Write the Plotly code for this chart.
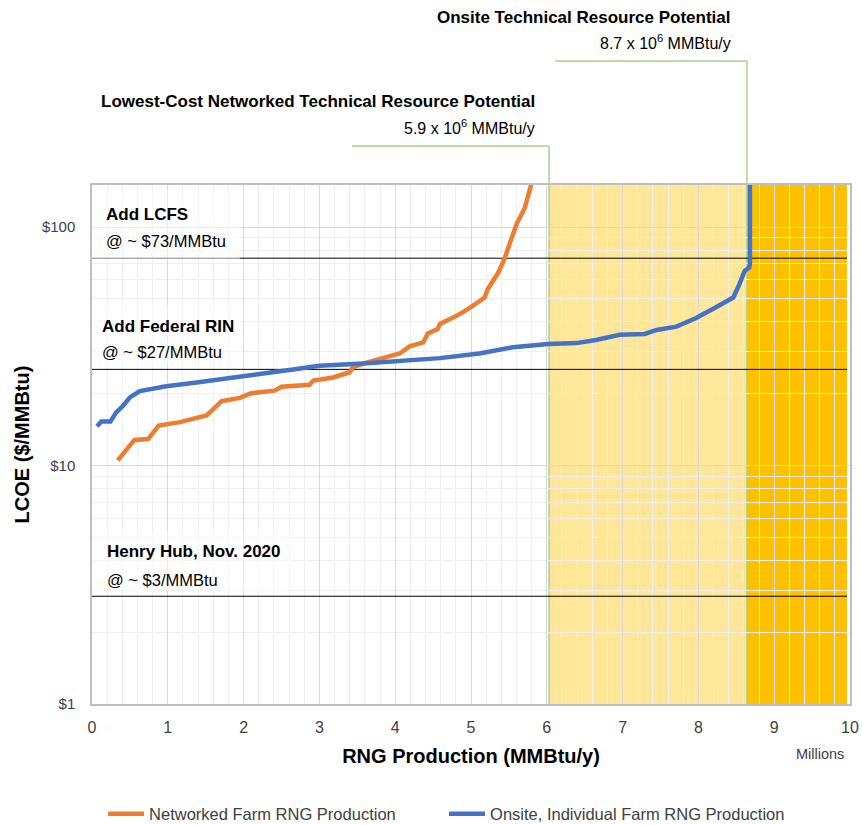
import plotly.graph_objects as go

# ---------------- data ----------------
networked_x = [0.34, 0.56, 0.74, 0.88, 1.16, 1.38, 1.51, 1.71, 1.95, 2.10, 2.41, 2.50,
               2.87, 2.92, 3.18, 3.40, 3.44, 3.62, 3.80, 4.06, 4.19, 4.37, 4.43, 4.56,
               4.59, 4.81, 4.98, 5.18, 5.22, 5.36, 5.44, 5.53, 5.60, 5.71, 5.80, 5.84]
networked_y = [10.5, 12.8, 12.9, 14.7, 15.2, 15.8, 16.2, 18.6, 19.2, 20.1, 20.6, 21.4,
               21.8, 22.7, 23.4, 24.6, 25.8, 27.0, 27.9, 29.5, 31.6, 32.8, 35.8, 37.3,
               39.2, 42.4, 45.7, 50.6, 54.8, 64.4, 73.3, 87.4, 102.6, 120.5, 148.6, 170.0]

onsite_x = [0.066, 0.124, 0.243, 0.32, 0.41, 0.50, 0.63, 0.85, 0.98, 1.38, 1.82, 2.26,
            2.70, 3.00, 3.58, 4.02, 4.59, 5.11, 5.55, 6.02, 6.39, 6.65, 6.96, 7.29,
            7.45, 7.71, 7.97, 8.19, 8.46, 8.54, 8.61, 8.67, 8.68, 8.68]
onsite_y = [14.6, 15.3, 15.3, 16.7, 17.8, 19.3, 20.5, 21.1, 21.5, 22.3, 23.2, 24.3,
            25.4, 26.2, 26.8, 27.5, 28.2, 29.5, 31.3, 32.3, 32.6, 33.6, 35.3, 35.6,
            37.0, 38.2, 41.5, 45.3, 50.6, 57.5, 65.5, 67.6, 70.0, 200.0]

# price reference lines ($/MMBtu) and their labels
price_levels = [74.0, 25.3, 2.83]
price_titles = ["Add LCFS", "Add Federal RIN", "Henry Hub, Nov. 2020"]
price_subtitles = ["@ ~ $73/MMBtu", "@ ~ $27/MMBtu", "@ ~ $3/MMBtu"]

# resource potential boundaries (millions MMBtu/y)
networked_potential = 6.03
onsite_potential = 8.64
shade_end = 9.96

y_tick_vals = [1, 10, 100]
y_tick_text = ["$1", "$10", "$100"]
y_minor_vals = [2, 3, 4, 5, 6, 7, 8, 9, 20, 30, 40, 50, 60, 70, 80, 90]
x_tick_vals = list(range(0, 11))

FONT = "Liberation Sans, Arial, sans-serif"

fig = go.Figure()
fig.add_trace(go.Scatter(x=networked_x, y=networked_y, mode="lines",
                         name="Networked Farm RNG Production",
                         line=dict(color="#ED7D31", width=4.5)))
fig.add_trace(go.Scatter(x=onsite_x, y=onsite_y, mode="lines",
                         name="Onsite, Individual Farm RNG Production",
                         line=dict(color="#4472C4", width=4.5)))

shapes = []
# shaded resource regions
shapes.append(dict(type="rect", xref="x", yref="paper", x0=networked_potential, x1=onsite_potential,
                   y0=0, y1=1, fillcolor="#FFE699", line=dict(width=0), layer="below"))
shapes.append(dict(type="rect", xref="x", yref="paper", x0=onsite_potential, x1=shade_end,
                   y0=0, y1=1, fillcolor="#FFC000", line=dict(width=0), layer="below"))
# price lines
for lv in price_levels:
    shapes.append(dict(type="line", xref="x", yref="y", x0=0, x1=shade_end, y0=lv, y1=lv,
                       line=dict(color="#000000", width=1), layer="between"))
# green leader lines
lead1_y = 1.0751
lead2_y = 1.2389
shapes.append(dict(type="line", xref="x", yref="paper", x0=networked_potential, x1=networked_potential,
                   y0=0, y1=lead1_y, line=dict(color="#A9D18E", width=1.5), layer="between"))
shapes.append(dict(type="line", xref="x", yref="paper", x0=3.43, x1=networked_potential,
                   y0=lead1_y, y1=lead1_y, line=dict(color="#A9D18E", width=1.5)))
shapes.append(dict(type="line", xref="x", yref="paper", x0=onsite_potential, x1=onsite_potential,
                   y0=0, y1=lead2_y, line=dict(color="#A9D18E", width=1.5), layer="between"))
shapes.append(dict(type="line", xref="x", yref="paper", x0=6.11, x1=onsite_potential,
                   y0=lead2_y, y1=lead2_y, line=dict(color="#A9D18E", width=1.5)))
# translucent label boxes
boxes = [(0.0, 0.195, 0.8555, 0.990), (0.0, 0.199, 0.651, 0.769), (0.0, 0.265, 0.2177, 0.3333)]
for x0, x1, y0, y1 in boxes:
    shapes.append(dict(type="rect", xref="paper", yref="paper", x0=x0, x1=x1, y0=y0, y1=y1,
                       fillcolor="rgba(255,255,255,0.5)", line=dict(width=0), layer="above"))

annotations = []
label_pos = [(0.0158, 0.944, 0.892), (0.0106, 0.7264, 0.678), (0.0172, 0.2929, 0.2389)]
for (lx, ty, sy), t, s in zip(label_pos, price_titles, price_subtitles):
    annotations.append(dict(x=lx, y=ty, xref="paper", yref="paper", xanchor="left", yanchor="middle",
                            text="<b>" + t + "</b>", showarrow=False,
                            font=dict(family=FONT, size=17, color="#000000")))
    annotations.append(dict(x=lx, y=sy, xref="paper", yref="paper", xanchor="left", yanchor="middle",
                            text=s, showarrow=False,
                            font=dict(family=FONT, size=16.5, color="#000000")))

annotations += [
    dict(x=0.8456, y=1.3218, xref="paper", yref="paper", xanchor="right", yanchor="middle",
         text="<b>Onsite Technical Resource Potential</b>", showarrow=False,
         font=dict(family=FONT, size=17, color="#000000")),
    dict(x=0.8456, y=1.2755, xref="paper", yref="paper", xanchor="right", yanchor="middle",
         text="8.7 x 10<sup>6</sup> MMBtu/y", showarrow=False,
         font=dict(family=FONT, size=16, color="#000000")),
    dict(x=0.587, y=1.1618, xref="paper", yref="paper", xanchor="right", yanchor="middle",
         text="<b>Lowest-Cost Networked Technical Resource Potential</b>", showarrow=False,
         font=dict(family=FONT, size=17, color="#000000")),
    dict(x=0.587, y=1.1118, xref="paper", yref="paper", xanchor="right", yanchor="middle",
         text="5.9 x 10<sup>6</sup> MMBtu/y", showarrow=False,
         font=dict(family=FONT, size=16, color="#000000")),
    dict(x=0.9604, y=-0.0963, xref="paper", yref="paper", xanchor="center", yanchor="middle",
         text="Millions", showarrow=False,
         font=dict(family=FONT, size=14.5, color="#404040")),
]

fig.update_layout(
    width=862, height=825,
    margin=dict(l=92, r=12, t=185, b=121, autoexpand=False),
    paper_bgcolor="white", plot_bgcolor="white",
    font=dict(family=FONT, color="#404040"),
    shapes=shapes, annotations=annotations,
    showlegend=True,
    legend=dict(orientation="h", x=0.0146, y=-0.212, xanchor="left", yanchor="middle",
                font=dict(family=FONT, size=16.5, color="#404040"),
                itemwidth=36, entrywidth=290, bgcolor="rgba(0,0,0,0)"),
)

fig.update_xaxes(
    range=[0, 10], tickvals=x_tick_vals, automargin=False,
    showgrid=True, gridcolor="#D9D9D9", gridwidth=1,
    minor=dict(dtick=0.2, showgrid=True, gridcolor="#EFEFEF", gridwidth=1),
    showline=True, linecolor="#BFBFBF", linewidth=1.5, mirror=True,
    ticks="outside", ticklen=8, tickcolor="rgba(0,0,0,0)",
    tickfont=dict(family=FONT, size=16, color="#404040"),
    zeroline=False,
    title=dict(text="<b>RNG Production (MMBtu/y)</b>", standoff=14,
               font=dict(family=FONT, size=20, color="#000000")),
)
fig.update_yaxes(
    type="log", range=[0, 2.1761], automargin=False,
    tickvals=y_tick_vals, ticktext=y_tick_text,
    showgrid=True, gridcolor="#D9D9D9", gridwidth=1,
    minor=dict(tickvals=y_minor_vals, showgrid=True, gridcolor="#EFEFEF", gridwidth=1),
    showline=True, linecolor="#BFBFBF", linewidth=1.5, mirror=True,
    ticks="outside", ticklen=12, tickcolor="rgba(0,0,0,0)",
    tickfont=dict(family=FONT, size=15, color="#404040"),
    zeroline=False,
    title=dict(text="<b>LCOE ($/MMBtu)</b>", standoff=7,
               font=dict(family=FONT, size=20, color="#000000")),
)

fig.write_html("out.html", config={"displayModeBar": False},
               post_script="document.body.style.margin='0';document.body.style.overflow='hidden';")
